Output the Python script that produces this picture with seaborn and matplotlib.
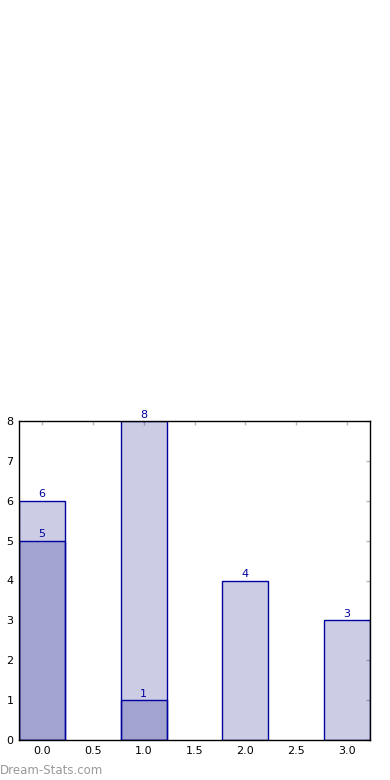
import matplotlib
matplotlib.use("Agg")
import matplotlib.pyplot as plt
import seaborn as sns
import pandas as pd

# bar data
positions = [0, 1, 2, 3]
totals = [6, 8, 4, 3]
sub_positions = [0, 1]
sub_values = [5, 1]

sns.set_style("white")
plt.rcParams["font.family"] = ["DejaVu Sans"]

fig = plt.figure(figsize=(3.9, 7.8), dpi=100)
ax = fig.add_axes([19 / 390, 1 - 740 / 780, 351 / 390, 319 / 780])

df_tot = pd.DataFrame({"x": positions, "y": totals})
df_sub = pd.DataFrame({"x": sub_positions, "y": sub_values})

for d in (df_tot, df_sub):
    sns.barplot(data=d, x="x", y="y", native_scale=True, width=0.45,
                color="navy", saturation=1, alpha=0.2, edgecolor="none",
                linewidth=0, errorbar=None, ax=ax)
    sns.barplot(data=d, x="x", y="y", native_scale=True, width=0.45,
                fill=False, edgecolor="#0000a0", saturation=1, linewidth=1,
                errorbar=None, ax=ax)

for xs, ys in ((positions, totals), (sub_positions, sub_values)):
    for x, y in zip(xs, ys):
        ax.annotate(str(y), (x, y), xytext=(0, 1), textcoords="offset points",
                    ha="center", va="bottom", color="#0000a0", fontsize=8)

ax.set_xlim(-0.225, 3.225)
ax.set_ylim(0, 8)
ax.set_xticks([0, 0.5, 1, 1.5, 2, 2.5, 3])
ax.set_xticklabels(["0.0", "0.5", "1.0", "1.5", "2.0", "2.5", "3.0"])
ax.set_yticks(range(0, 9))
ax.set_xlabel("")
ax.set_ylabel("")
ax.tick_params(direction="in", length=3, width=1, color="#bbbbbb",
               labelsize=8, labelcolor="black", top=True, right=True, pad=4)
for s in ax.spines.values():
    s.set_color("black")
    s.set_linewidth(1)

fig.text(0.0, 1 - 770 / 780, "Dream-Stats.com", color="#999999",
         fontsize=8.5, ha="left", va="center")

fig.savefig("out.png", dpi=100)
